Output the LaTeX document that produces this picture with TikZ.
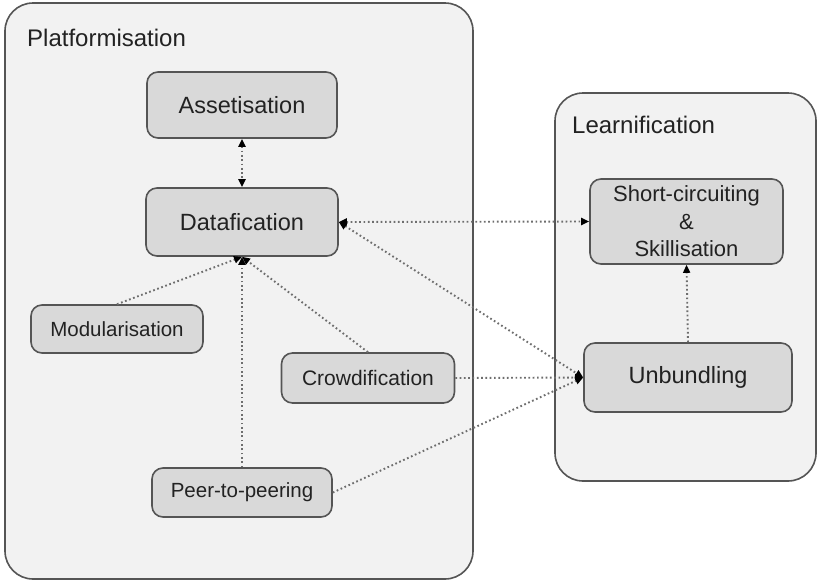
\documentclass[tikz,border=0pt]{standalone}
\usepackage{fontspec}
\setmainfont{Liberation Sans}
\usetikzlibrary{arrows.meta}
\definecolor{boxfill}{HTML}{D9D9D9}
\definecolor{contfill}{HTML}{F2F2F2}
\definecolor{edge}{HTML}{555555}
\definecolor{txt}{HTML}{222222}
\definecolor{dotc}{HTML}{6E6E6E}
\tikzset{
  container/.style={draw=edge, fill=contfill, line width=1.6pt, rounded corners=28pt},
  contlabel/.style={anchor=west, text=txt, font=\fontsize{24}{28}\selectfont, inner sep=0pt},
  stepbox/.style={draw=edge, fill=boxfill, line width=1.6pt, rounded corners=11pt, text=txt, align=center, inner sep=2pt},
  big/.style={font=\fontsize{23.5}{27.5}\selectfont},
  small/.style={font=\fontsize{20.5}{24}\selectfont},
  link/.style={draw=dotc, line width=1.9pt, dash pattern=on 1.7pt off 2.6pt},
  tip/.style={-{Triangle[length=8pt,width=7pt,color=black]}},
  tips/.style={{Triangle[length=8pt,width=7pt,color=black]}-{Triangle[length=8pt,width=7pt,color=black]}}
}
\begin{document}
\begin{tikzpicture}[x=1pt,y=-1pt]
\useasboundingbox[fill=white] (0,0) rectangle (818,581);
% containers
\draw[container] (5,3) rectangle (473,579);
\draw[container] (555,93) rectangle (816,481);
\node[contlabel] (plat) at (27,38) {Platformisation};
\node[contlabel] (learn) at (572,125) {Learnification};
% steps
\node[stepbox, big, minimum width=190pt, minimum height=66pt] (ass) at (242,105) {Assetisation};
\node[stepbox, big, minimum width=192pt, minimum height=68pt] (dat) at (242,222) {Datafication};
\node[stepbox, small, minimum width=172pt, minimum height=48pt] (mod) at (117,329) {Modularisation};
\node[stepbox, font=\fontsize{21}{24}\selectfont, minimum width=173pt, minimum height=50pt] (crowd) at (368,378) {Crowdification};
\node[stepbox, small, minimum width=180pt, minimum height=49pt] (peer) at (242,492.5) {Peer-to-peering};
\node[stepbox, font=\fontsize{22}{27.5}\selectfont, minimum width=193pt, minimum height=85pt, inner sep=0pt] (sc) at (686.5,221.5) {Short-circuiting\\\&\\Skillisation};
\node[stepbox, big, minimum width=208pt, minimum height=69pt] (unb) at (688,377.5) {Unbundling};
% links
\draw[link, tips] (ass.south) -- (dat.north);
\draw[link, tips] (dat.east) -- (sc.west);
\draw[link, tips] (dat.east) -- (unb.west);
\draw[link, tip] (mod.north) -- (dat.south);
\draw[link, tip] (crowd.north) -- (dat.south);
\draw[link, tip] (peer.north) -- (dat.south);
\draw[link, tip] (crowd.east) -- (unb.west);
\draw[link, tip] (peer.east) -- (unb.west);
\draw[link, tip] (unb.north) -- (sc.south);
\end{tikzpicture}
\end{document}
